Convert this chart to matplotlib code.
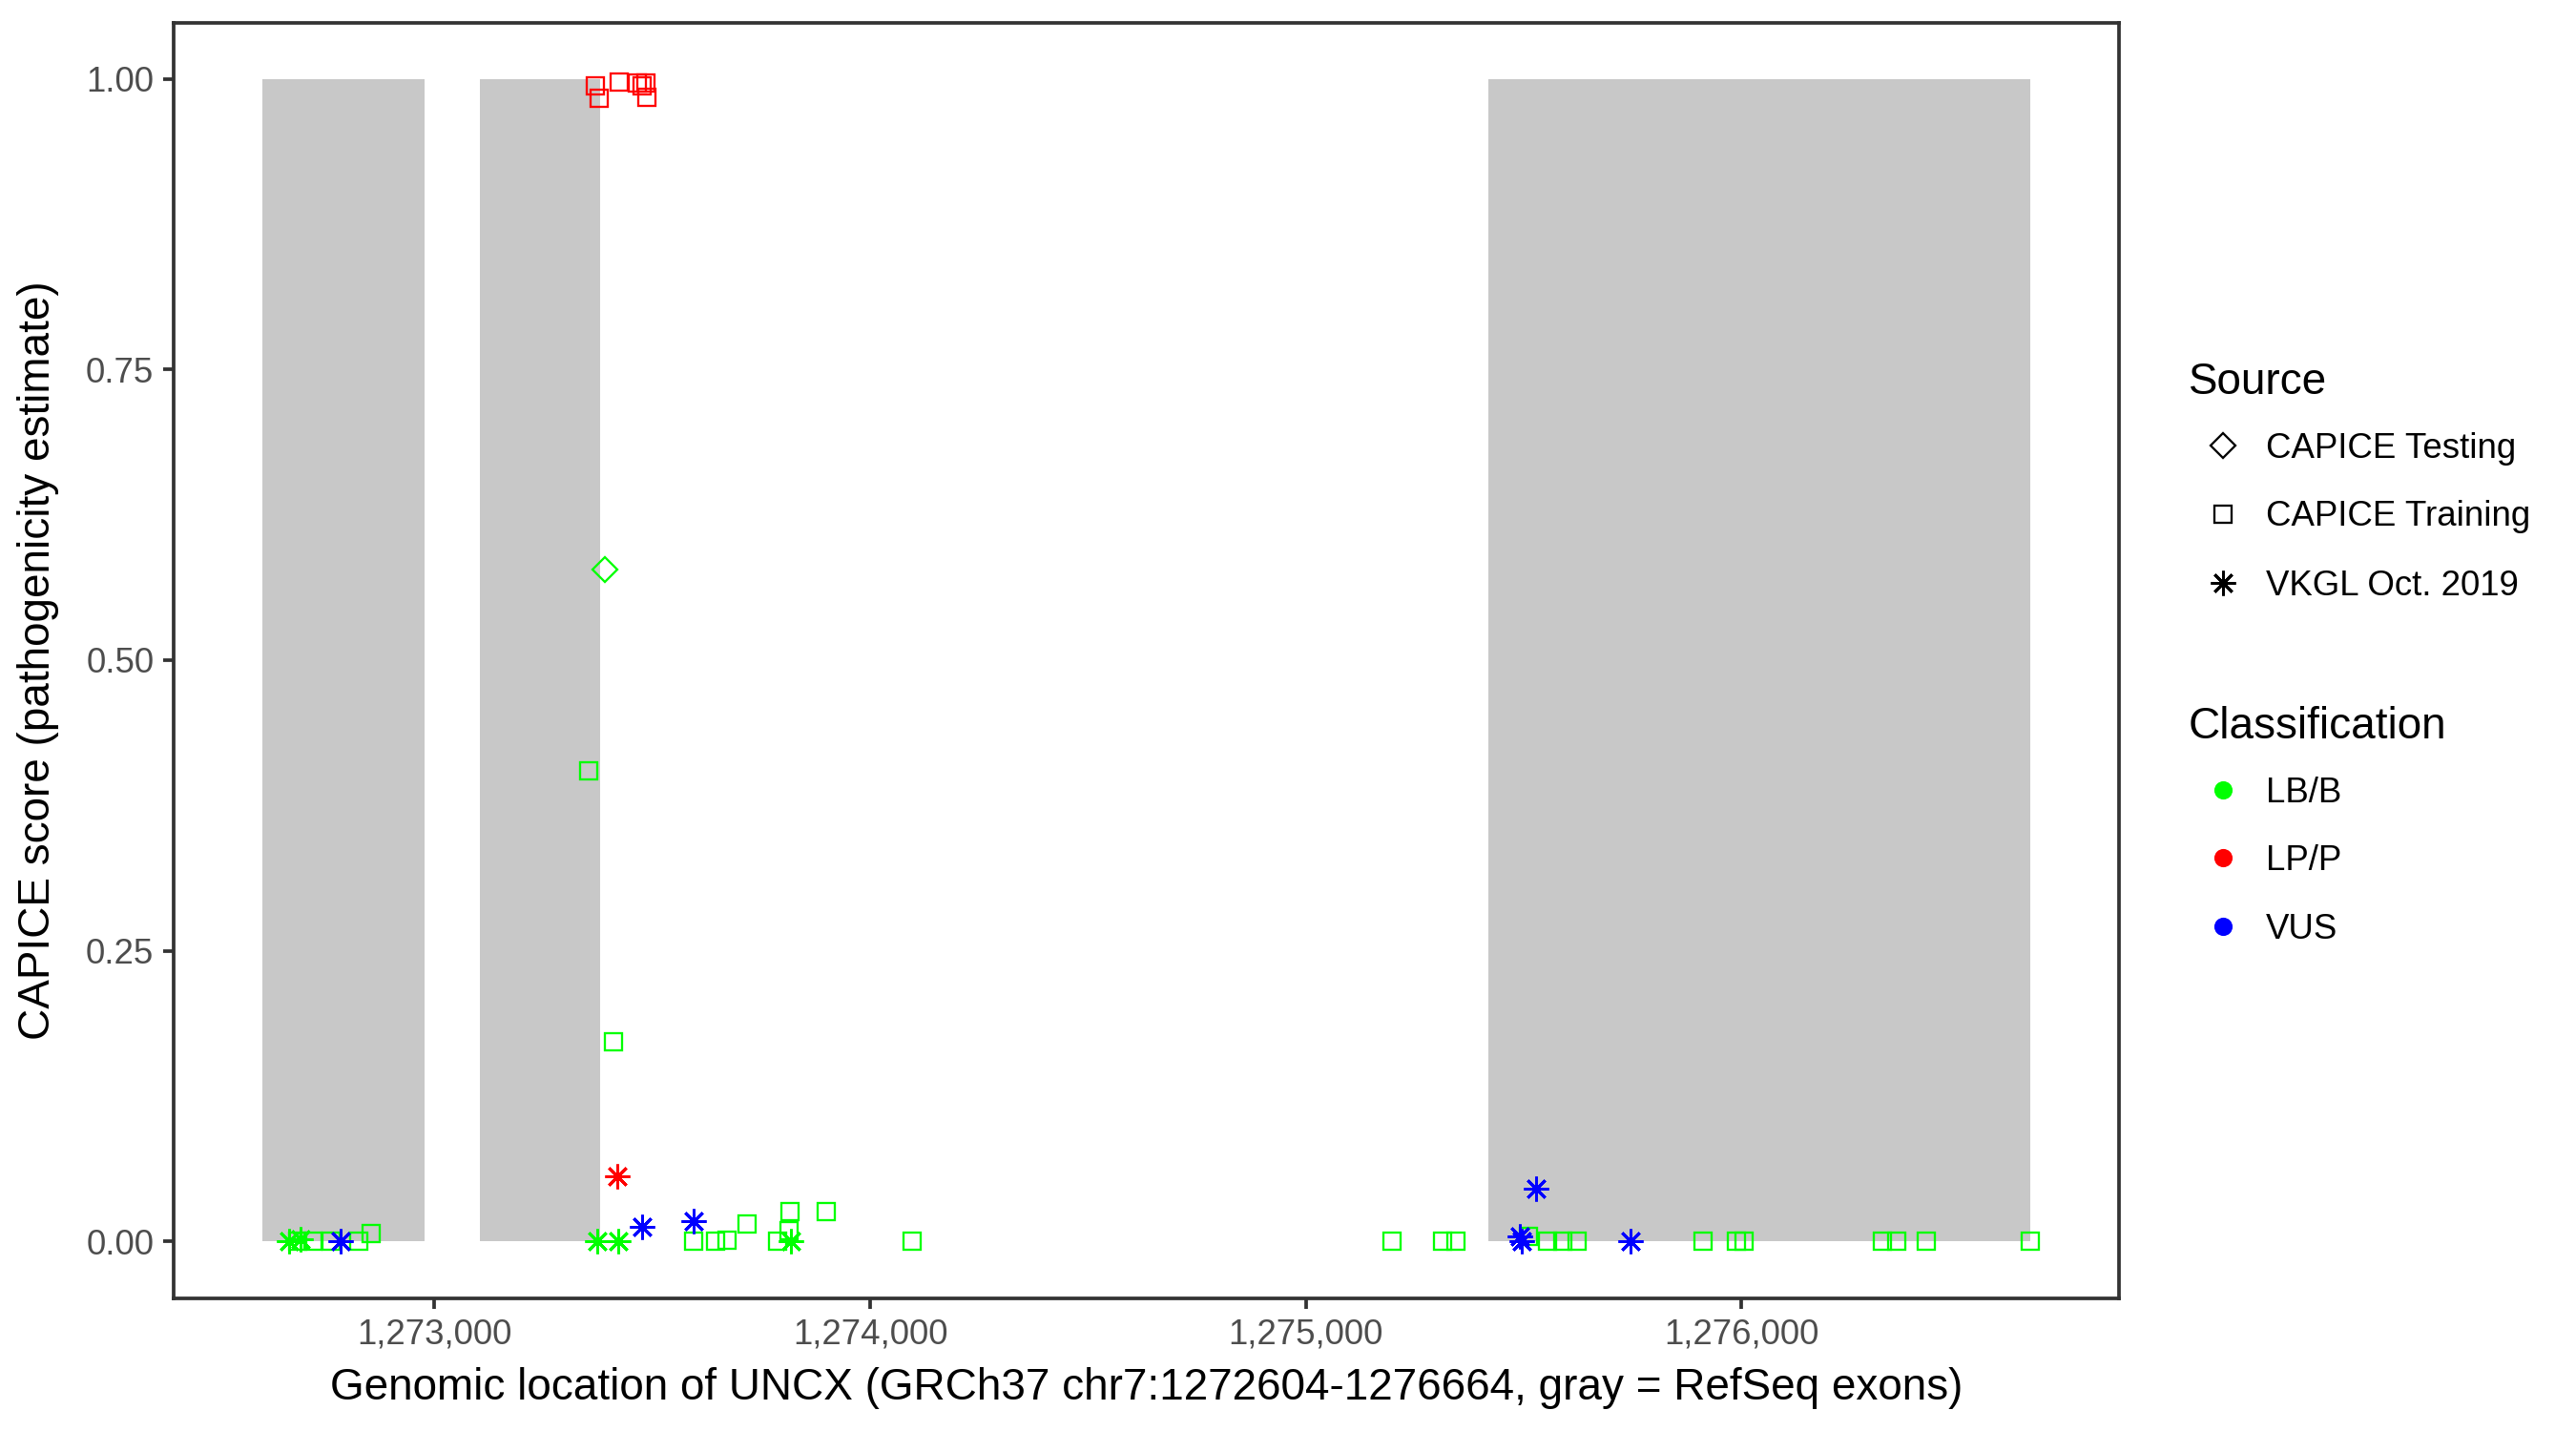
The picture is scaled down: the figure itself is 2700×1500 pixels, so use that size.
"""CAPICE scores along UNCX with RefSeq exons shaded."""

import matplotlib

matplotlib.use("Agg")
import matplotlib.pyplot as plt
from matplotlib.lines import Line2D
from matplotlib.ticker import FuncFormatter

plt.rcParams["font.family"] = ["Liberation Sans", "DejaVu Sans"]

# RefSeq exons (GRCh37 chr7)
exon_start = [1272604, 1273104, 1275419]
exon_end = [1272976, 1273380, 1276664]

# CAPICE Training variants
train_pos = [
    1273369, 1273378, 1273424, 1273465, 1273476, 1273485, 1273487,
    1273354, 1273411, 1272686, 1272721, 1272762, 1272826, 1272854,
    1273594, 1273645, 1273671, 1273717, 1273816, 1273814, 1273787,
    1273899, 1274096, 1275198, 1275314, 1275344, 1275511, 1275554,
    1275590, 1275623, 1275912, 1275988, 1276006, 1276324, 1276356,
    1276424, 1276663,
]
train_score = [
    0.994, 0.983, 0.997, 0.996, 0.994, 0.996, 0.984,
    0.405, 0.172, 0.0, 0.0, 0.0, 0.0, 0.0066,
    0.0, 0.0, 0.001, 0.0148, 0.026, 0.0093, 0.0,
    0.0254, 0.0, 0.0, 0.0, 0.0, 0.004, 0.0,
    0.0, 0.0, 0.0, 0.0, 0.0, 0.0, 0.0,
    0.0, 0.0005,
]
train_class = ["LP/P"] * 7 + ["LB/B"] * 30

# CAPICE Testing variants
test_pos = [1273391]
test_score = [0.578]
test_class = ["LB/B"]

# VKGL Oct. 2019 variants
vkgl_pos = [
    1272666, 1272692, 1273373, 1273422, 1273818,
    1273419,
    1272784, 1273476, 1273594, 1275528, 1275491, 1275496, 1275745,
]
vkgl_score = [
    0.0, 0.002, 0.0, 0.0, 0.0,
    0.0558,
    0.0, 0.0123, 0.0172, 0.0454, 0.0044, 0.0, 0.0,
]
vkgl_class = ["LB/B"] * 5 + ["LP/P"] + ["VUS"] * 7

class_colors = {"LB/B": "#00FF00", "LP/P": "#FF0000", "VUS": "#0000FF"}
# marker, size (pt), edge width (pt)
source_markers = {
    "CAPICE Testing": ("D", 4.4, 0.55),
    "CAPICE Training": ("s", 4.4, 0.55),
    "VKGL Oct. 2019": ((8, 2, 0), 6.2, 0.7),
}

x_ticks = [1273000, 1274000, 1275000, 1276000]
y_ticks = [0.0, 0.25, 0.5, 0.75, 1.0]

EDGE = "#333333"
W, H = 2700, 1500
NUDGE = 3  # px: text sits a touch lower than matplotlib's bbox centre


def fy(px):
    return 1 - (px + NUDGE) / H


def draw_points(ax, pos, score, classes, source):
    marker, ms, mew = source_markers[source]
    for cls, col in class_colors.items():
        xs = [p for p, c in zip(pos, classes) if c == cls]
        ys = [s for s, c in zip(score, classes) if c == cls]
        if not xs:
            continue
        ax.plot(xs, ys, linestyle="none", marker=marker, ms=ms,
                mfc="none", mec=col, mew=mew, zorder=3)


def legend_block(fig, y_title, title, entries):
    fig.text(2294 / W, fy(y_title), title, fontsize=11, ha="left", va="center")
    for y, label, key, col, filled in entries:
        if filled:
            marker, ms, mew = "o", 4.6, 0
        else:
            marker, ms, mew = source_markers[key]
        fig.add_artist(Line2D([2330 / W], [1 - y / H], transform=fig.transFigure,
                              linestyle="none", marker=marker, ms=ms,
                              mfc=col if filled else "none", mec=col, mew=mew))
        fig.text(2375 / W, fy(y), label, fontsize=8.8, ha="left", va="center")


fig = plt.figure(figsize=(9, 5), dpi=300)
ax = fig.add_axes([182 / W, 1 - 1361 / H, (2221 - 182) / W, (1361 - 24) / H])

ax.bar(exon_start, [1.0] * len(exon_start),
       width=[e - s for s, e in zip(exon_start, exon_end)],
       align="edge", color="#C8C8C8", linewidth=0, zorder=1)

draw_points(ax, train_pos, train_score, train_class, "CAPICE Training")
draw_points(ax, test_pos, test_score, test_class, "CAPICE Testing")
draw_points(ax, vkgl_pos, vkgl_score, vkgl_class, "VKGL Oct. 2019")

ax.set_xlim(1272401, 1276867)
ax.set_ylim(-0.049, 1.048)
ax.set_xticks(x_ticks)
ax.set_yticks(y_ticks)
ax.xaxis.set_major_formatter(FuncFormatter(lambda v, _: f"{v:,.0f}"))
ax.yaxis.set_major_formatter(FuncFormatter(lambda v, _: f"{v:.2f}"))
ax.tick_params(length=2.75, width=0.9, color=EDGE, labelcolor="#4D4D4D",
               labelsize=8.8, pad=2.2)
for sp in ax.spines.values():
    sp.set_color(EDGE)
    sp.set_linewidth(0.9)

fig.text((182 + 2221) / 2 / W, fy(1452),
         "Genomic location of UNCX (GRCh37 chr7:1272604-1276664, gray = RefSeq exons)",
         fontsize=11, ha="center", va="center")
fig.text(40 / W, 1 - 692 / H, "CAPICE score (pathogenicity estimate)",
         fontsize=11, rotation=90, ha="center", va="center")

legend_block(fig, 398, "Source", [
    (467, "CAPICE Testing", "CAPICE Testing", "black", False),
    (539, "CAPICE Training", "CAPICE Training", "black", False),
    (611, "VKGL Oct. 2019", "VKGL Oct. 2019", "black", False),
])
legend_block(fig, 759, "Classification", [
    (828, "LB/B", None, class_colors["LB/B"], True),
    (899, "LP/P", None, class_colors["LP/P"], True),
    (971, "VUS", None, class_colors["VUS"], True),
])

fig.savefig("out.png", dpi=300)
